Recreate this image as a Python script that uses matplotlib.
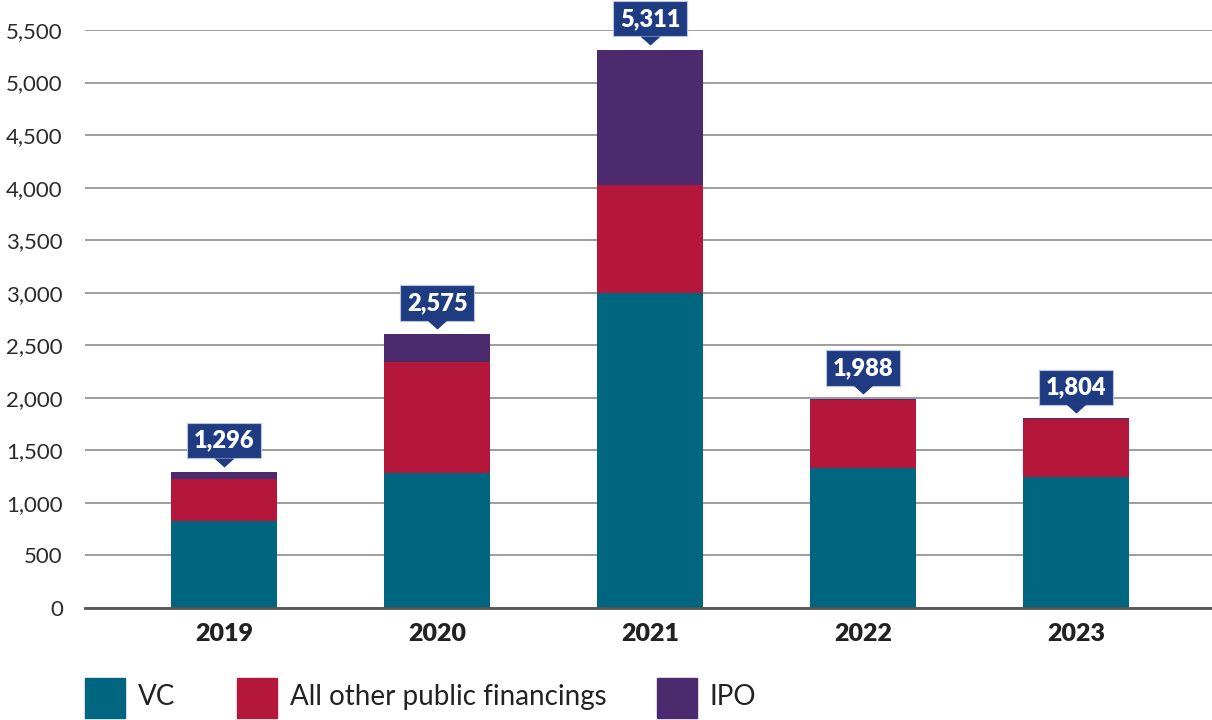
import matplotlib.pyplot as plt
from matplotlib.patches import Rectangle
from matplotlib.transforms import offset_copy

plt.rcParams['font.family'] = ['Lato', 'DejaVu Sans']

# data
years = ["2019", "2020", "2021", "2022", "2023"]
vc = [828, 1285, 3000, 1335, 1247]
other_public = [400, 1059, 1025, 643, 553]
ipo = [68, 263, 1286, 10, 4]
total_labels = ["1,296", "2,575", "5,311", "1,988", "1,804"]

series_names = ["VC", "All other public financings", "IPO"]
colors = ["#006680", "#B5173A", "#4C2A6E"]
label_box = "#1F3B82"

fig = plt.figure(figsize=(12.12, 7.2), dpi=100)
ax = fig.add_axes([85 / 1212, 112 / 720, 1 - 85 / 1212, 578 / 720])

x = list(range(len(years)))
bottom = [0] * len(years)
for vals, col in zip([vc, other_public, ipo], colors):
    ax.bar(x, vals, width=0.5, bottom=bottom, color=col, zorder=3)
    bottom = [b + v for b, v in zip(bottom, vals)]

# callout labels with downward pointer
pointer = [(-1, 0), (1, 0), (0, -0.9)]
for i, (top, lab) in enumerate(zip(bottom, total_labels)):
    tri = offset_copy(ax.transData, fig=fig, x=0, y=14, units='dots')
    ax.plot([i], [top], marker=pointer, ms=14.5, color=label_box,
            markeredgewidth=0, transform=tri, zorder=7, clip_on=False)
    ax.annotate(lab, xy=(i, top), xytext=(0, 31), textcoords='offset pixels',
                ha='center', va='center', color='white', fontsize=17,
                fontweight='heavy', zorder=6, annotation_clip=False,
                bbox=dict(boxstyle='square,pad=0.28', fc=label_box,
                          ec='#b8c3e0', lw=0.8))

ax.set_xlim(-0.653, 4.638)
ax.set_ylim(0, 5500)
ax.set_yticks(range(0, 5501, 500))
ax.set_yticklabels([f"{v:,}" for v in range(0, 5501, 500)])
ax.set_xticks(x)
ax.set_xticklabels(years, fontweight='heavy', fontsize=18)
ax.tick_params(axis='y', length=0, pad=16, labelsize=16, labelcolor='#2b2b2b')
ax.tick_params(axis='x', length=0, pad=11, labelcolor='#222222')
ax.yaxis.grid(True, color='#8c8c8c', lw=1.2, zorder=0)
for s in ['top', 'right', 'left']:
    ax.spines[s].set_visible(False)
ax.spines['bottom'].set_color('#555555')
ax.spines['bottom'].set_linewidth(2)
ax.spines['bottom'].set_zorder(4)

# legend drawn by hand
leg_x = [85, 237, 657]
for lx, name, col in zip(leg_x, series_names, colors):
    fig.patches.append(Rectangle((lx / 1212, 2 / 720), 40 / 1212, 40 / 720,
                                 transform=fig.transFigure, color=col))
    fig.text((lx + 53) / 1212, 23 / 720, name, fontsize=20, va='center',
             ha='left', color='#222222')

plt.savefig("out.png", dpi=100)
